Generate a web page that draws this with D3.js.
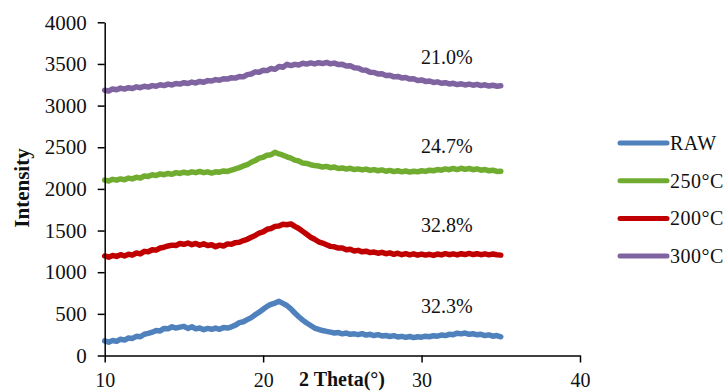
<!DOCTYPE html>
<html>
<head>
<meta charset="utf-8">
<script src="https://cdn.jsdelivr.net/npm/d3@7"></script>
<style>
  body { margin: 0; background: #fff; }
  text { font-family: "Liberation Serif", "Times New Roman", serif; fill: #111; }
</style>
</head>
<body>
<div class="chart"></div>
<script>
// 2 theta grid: 10 to 35 in 0.25 steps
const theta = d3.range(0, 101).map(i => 10 + i * 0.25);

const raw = [
  175, 160, 180, 170, 195, 185, 210, 205, 230, 225, 255, 265, 280, 300, 295, 325,
  320, 345, 330, 340, 350, 325, 345, 320, 330, 310, 325, 315, 330, 315, 335, 330,
  345, 365, 395, 405, 430, 455, 490, 520, 555, 590, 615, 630, 650, 625, 600, 560,
  510, 465, 425, 390, 360, 330, 315, 300, 290, 280, 270, 275, 260, 270, 255, 260,
  250, 262, 245, 255, 240, 250, 235, 240, 228, 238, 222, 230, 218, 228, 215, 225,
  220, 232, 225, 238, 232, 245, 240, 255, 250, 268, 260, 270, 255, 262, 248, 255,
  240, 248, 232, 240, 225
];
const t250 = [
  2105, 2095, 2115, 2105, 2120, 2110, 2130, 2120, 2140, 2130, 2155, 2150, 2170, 2160, 2180, 2170,
  2185, 2175, 2195, 2185, 2200, 2190, 2205, 2195, 2210, 2195, 2205, 2190, 2205, 2200, 2215, 2210,
  2225, 2240, 2255, 2275, 2290, 2320, 2340, 2370, 2380, 2405, 2410, 2440, 2420, 2405, 2385, 2370,
  2345, 2335, 2310, 2305, 2290, 2280, 2275, 2262, 2270, 2255, 2262, 2245, 2252, 2238, 2248, 2232,
  2240, 2228, 2238, 2222, 2232, 2218, 2228, 2212, 2222, 2208, 2218, 2205, 2215, 2202, 2212, 2205,
  2218, 2210, 2225, 2218, 2232, 2225, 2240, 2230, 2245, 2232, 2248, 2235, 2245, 2230, 2240, 2225,
  2232, 2218, 2225, 2210, 2212
];
const t200 = [
  1195, 1180, 1200, 1190, 1210, 1195, 1215, 1205, 1230, 1220, 1250, 1245, 1270, 1265, 1290, 1300,
  1315, 1325, 1320, 1345, 1335, 1350, 1330, 1345, 1325, 1340, 1320, 1330, 1305, 1325, 1315, 1340,
  1335, 1355, 1360, 1380, 1395, 1420, 1440, 1470, 1485, 1515, 1525, 1550, 1555, 1575, 1570, 1580,
  1550, 1525, 1490, 1455, 1420, 1395, 1365, 1350, 1330, 1310, 1305, 1290, 1290, 1270, 1275, 1255,
  1262, 1245, 1252, 1235, 1242, 1228, 1238, 1222, 1232, 1215, 1228, 1210, 1222, 1208, 1220, 1205,
  1218, 1205, 1215, 1202, 1218, 1208, 1222, 1210, 1220, 1208, 1222, 1212, 1225, 1212, 1222, 1210,
  1220, 1208, 1218, 1210, 1205
];
const t300 = [
  3185, 3175, 3200, 3190, 3210, 3198, 3215, 3205, 3225, 3215, 3232, 3222, 3240, 3232, 3250, 3240,
  3258, 3248, 3265, 3258, 3275, 3265, 3282, 3272, 3290, 3280, 3300, 3295, 3312, 3305, 3322, 3318,
  3335, 3330, 3350, 3345, 3372, 3380, 3405, 3400, 3425, 3420, 3445, 3435, 3470, 3460, 3495, 3480,
  3495, 3488, 3508, 3498, 3512, 3500, 3515, 3505, 3518, 3502, 3510, 3492, 3495, 3475, 3478, 3455,
  3450, 3428, 3425, 3400, 3398, 3380, 3382, 3362, 3365, 3345, 3350, 3332, 3338, 3318, 3322, 3302,
  3308, 3290, 3295, 3278, 3285, 3268, 3275, 3260, 3268, 3252, 3262, 3248, 3258, 3245, 3255, 3240,
  3250, 3235, 3245, 3232, 3238
];

const seriesNames = ['RAW', '250°C', '200°C', '300°C'];
const seriesValues = [raw, t250, t200, t300];
const colors = ['#4F81BD', '#6FAC2F', '#C00000', '#8064A2'];

// crystallinity labels
const labelText = ['21.0%', '24.7%', '32.8%', '32.3%'];
const labelX = [31.6, 31.6, 31.6, 31.6];
const labelY = [3494, 2436, 1487, 514];

const xTicks = [10, 20, 30, 40];
const yTicks = [0, 500, 1000, 1500, 2000, 2500, 3000, 3500, 4000];

const W = 728, H = 392;
const svg = d3.select('.chart').append('svg')
  .attr('width', W).attr('height', H);

const x = d3.scaleLinear().domain([10, 40]).range([104.7, 580]);
const y = d3.scaleLinear().domain([0, 4000]).range([355.5, 22.3]);

const line = d3.line()
  .x((d, i) => x(theta[i]))
  .y(d => y(d));

svg.selectAll('.line')
  .data(seriesValues)
  .enter()
  .append('path')
  .attr('class', 'line')
  .attr('d', d => line(d))
  .style('fill', 'none')
  .style('stroke', (d, i) => colors[i])
  .style('stroke-width', 5.5)
  .style('stroke-linejoin', 'round')
  .style('stroke-linecap', 'round');

const xAxis = svg.append('g')
  .attr('transform', `translate(0, ${y(0)})`)
  .call(d3.axisBottom(x).tickValues(xTicks).tickFormat(d3.format('d'))
    .tickSize(7).tickPadding(10).tickSizeOuter(0));
const yAxis = svg.append('g')
  .attr('transform', `translate(${x(10)}, 0)`)
  .call(d3.axisLeft(y).tickValues(yTicks).tickFormat(d3.format('d'))
    .tickSize(7).tickPadding(11).tickSizeOuter(0));

[xAxis, yAxis].forEach(g => {
  g.select('.domain').attr('stroke', '#000').attr('stroke-width', 1.5);
  g.selectAll('.tick line').attr('stroke', '#000').attr('stroke-width', 1.5);
  g.selectAll('.tick text')
    .style('font-family', '"Liberation Serif", serif')
    .style('font-size', '21px')
    .attr('fill', '#111');
});
xAxis.selectAll('.tick text').style('font-size', '20px');

svg.append('text')
  .attr('x', 342).attr('y', 386)
  .attr('text-anchor', 'middle')
  .style('font-size', '20px')
  .style('font-weight', 'bold')
  .text('2 Theta(°)');

svg.append('text')
  .attr('transform', 'translate(29, 188) rotate(-90)')
  .attr('text-anchor', 'middle')
  .style('font-size', '21px')
  .style('font-weight', 'bold')
  .text('Intensity');

svg.selectAll('.pct')
  .data(labelText)
  .enter()
  .append('text')
  .attr('class', 'pct')
  .attr('x', (d, i) => x(labelX[i]))
  .attr('y', (d, i) => y(labelY[i]))
  .attr('text-anchor', 'middle')
  .style('font-size', '20px')
  .text(d => d);

// legend
const legend = svg.append('g').attr('transform', 'translate(620, 143)');
const item = legend.selectAll('g')
  .data(seriesNames)
  .enter()
  .append('g')
  .attr('transform', (d, i) => `translate(0, ${i * 37.7})`);
item.append('line')
  .attr('x1', 0).attr('x2', 47)
  .attr('stroke', (d, i) => colors[i])
  .attr('stroke-width', 5)
  .attr('stroke-linecap', 'round');
item.append('text')
  .attr('x', 50).attr('y', 7)
  .style('font-size', '20px')
  .style('letter-spacing', '0.5px')
  .text(d => d);
</script>
</body>
</html>
